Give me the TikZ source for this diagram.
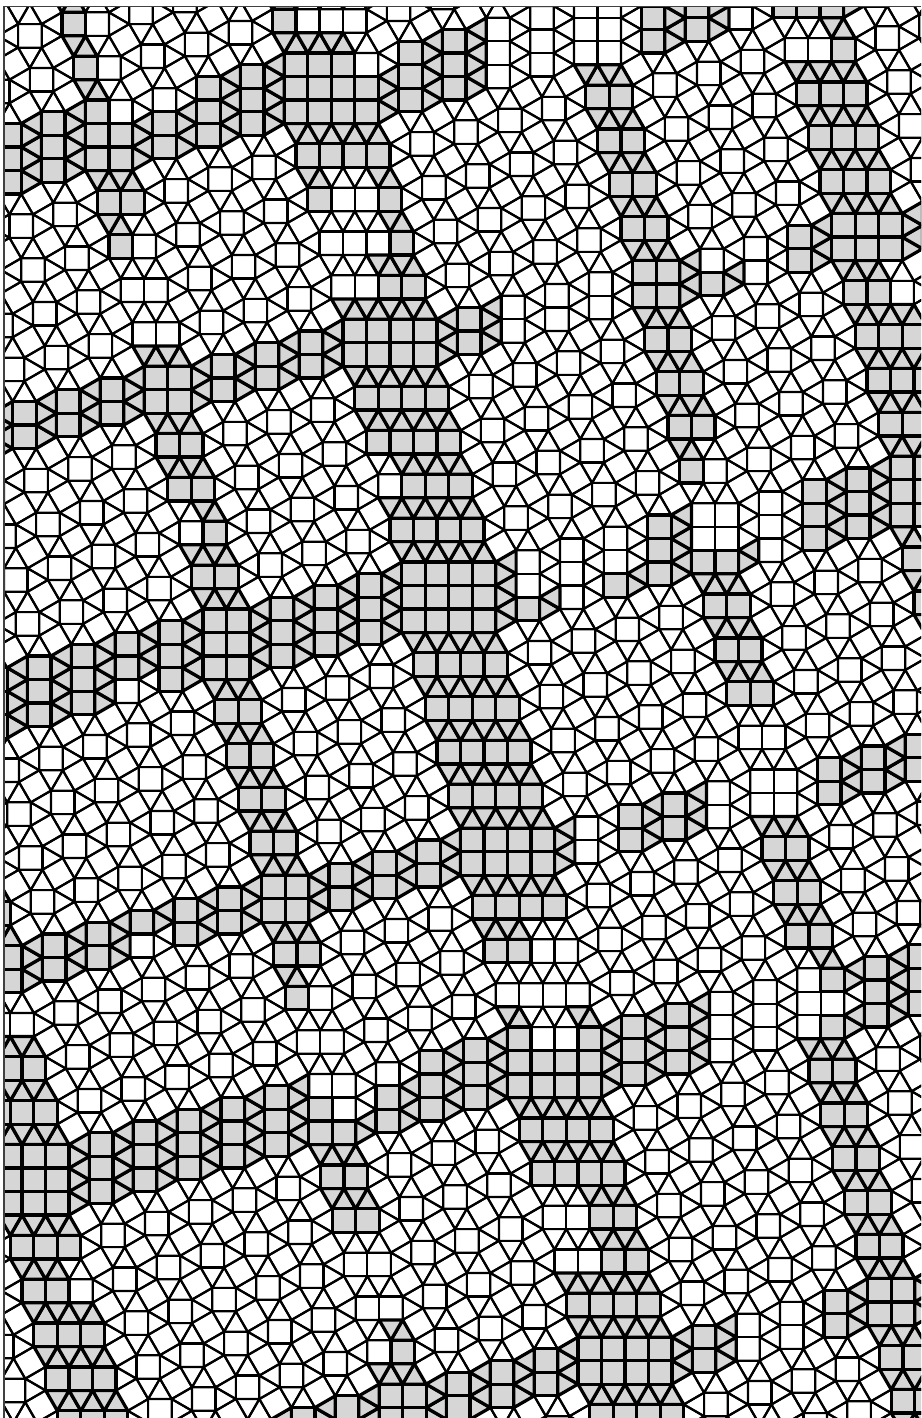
\documentclass[tikz,border=0pt]{standalone}
\newdimen\bxd
\newdimen\byd
\tikzset{
  wt/.style={draw=black,line width=2.6pt,line join=round},
  gt/.style={draw=black,fill=black!16,line width=3.9pt,line join=round},
  framel/.style={draw=black!75,line width=1.4pt}
}
\newcommand\Xlist{S,S,S,E,S,S,S,S,S,E,E,S,S,S,S,S,S,E,S,S,S,S,E,E,E,S,S,S,S,S,E,S,S,S,S,E,E,S,S,S,S,S,E,S,S,S}
\newcommand\Ylist{S,S,E,S,S,S,S,S,E,E,S,S,S,S,E,S,S,S,S,S,S,E,E,S,S,S,S,E,S,S,S,S,S,E,E,S,S,S,S,S,E,S,S,S,S,S,E,E,S,S,S,S,E,S,S,S,S,S,E,E,S,S}
\def\ox{-6.988}
\def\oy{-30.585}
\newcommand\celldraw{%
  \edef\Xt{\csname ct\c\endcsname}%
  \edef\Xp{\csname ct\number\numexpr\c-1\relax\endcsname}%
  \edef\Yt{\csname rt\j\endcsname}%
  \edef\Yp{\csname rt\number\numexpr\j-1\relax\endcsname}%
  \def\hE{0}\if E\Xt\def\hE{1}\fi\if E\Xp\def\hE{1}\fi
  \def\vE{0}\if E\Yt\def\vE{1}\fi\if E\Yp\def\vE{1}\fi
  \def\sh{0}%
  \ifnum\numexpr\hE+\vE\relax>0
    \pgfmathsetmacro\bxu{\bxd}\pgfmathsetmacro\byu{\byd}%
    \pgfmathsetmacro\fb{sin(41*\bxu+17)+sin(34*\byu+63)+0.8*sin(23*\bxu-29*\byu)}%
    \ifdim\fb pt>-0.9pt \def\sh{1}\fi
  \fi
  \def\bst{wt}\ifnum\sh=1 \def\bst{gt}\fi
  \def\ust{wt}\ifnum\vE=1 \ifnum\sh=1 \def\ust{gt}\fi\fi
  \def\vst{wt}\ifnum\hE=1 \ifnum\sh=1 \def\vst{gt}\fi\fi
  \begin{scope}[shift={(\Cx,\Cy)},shift={(\Rx,\Ry)}]
    \if S\Xt
      \path[\ust] (0.5,0.5) -- (0.5,-0.5) -- (1.3660254,0) -- cycle;
      \path[\ust] (0.5,0.5) -- (1.3660254,0) -- (1.3660254,1) -- cycle;
    \fi
    \if S\Yt
      \path[\vst] (-0.5,0.5) -- (0.5,0.5) -- (0,1.3660254) -- cycle;
      \path[\vst] (-0.5,0.5) -- (0,1.3660254) -- (-1,1.3660254) -- cycle;
    \fi
    \if S\Xt\if S\Yt
      \path[wt] (0.5,0.5) -- (1.3660254,1) -- (0.8660254,1.8660254) -- (0,1.3660254) -- cycle;
    \fi\fi
    \path[\bst] (-0.5,-0.5) rectangle (0.5,0.5);
  \end{scope}}
\begin{document}
\begin{tikzpicture}[x=1cm,y=1cm]
\useasboundingbox (0,0) rectangle (39.2,60.35);
% cumulative column offsets
\gdef\accx{0}\gdef\accy{0}
\foreach \t [count=\i from 0] in \Xlist {%
  \expandafter\xdef\csname cx\i\endcsname{\accx}%
  \expandafter\xdef\csname cy\i\endcsname{\accy}%
  \expandafter\xdef\csname ct\i\endcsname{\t}%
  \if S\t
    \pgfmathsetmacro\nx{\accx+1.8660254}\pgfmathsetmacro\ny{\accy+0.5}%
  \else
    \pgfmathsetmacro\nx{\accx+1}\pgfmathsetmacro\ny{\accy}%
  \fi
  \xdef\accx{\nx}\xdef\accy{\ny}%
}
% cumulative row offsets
\gdef\accx{0}\gdef\accy{0}
\foreach \t [count=\i from 0] in \Ylist {%
  \expandafter\xdef\csname rx\i\endcsname{\accx}%
  \expandafter\xdef\csname ry\i\endcsname{\accy}%
  \expandafter\xdef\csname rt\i\endcsname{\t}%
  \if S\t
    \pgfmathsetmacro\nx{\accx-0.5}\pgfmathsetmacro\ny{\accy+1.8660254}%
  \else
    \pgfmathsetmacro\nx{\accx}\pgfmathsetmacro\ny{\accy+1}%
  \fi
  \xdef\accx{\nx}\xdef\accy{\ny}%
}
\expandafter\gdef\csname ct-1\endcsname{S}
\expandafter\gdef\csname rt-1\endcsname{S}
\begin{scope}
\clip (0.17,0) rectangle (39.2,60.09);
\begin{scope}[shift={(\ox,\oy)}]
\foreach \c in {0,...,45}{%
  \foreach \j in {0,...,61}{%
    \edef\Cx{\csname cx\c\endcsname}\edef\Cy{\csname cy\c\endcsname}%
    \edef\Rx{\csname rx\j\endcsname}\edef\Ry{\csname ry\j\endcsname}%
    \bxd=\dimexpr\Cx pt+\Rx pt+\ox pt\relax
    \byd=\dimexpr\Cy pt+\Ry pt+\oy pt\relax
    \ifdim\bxd>-2.5pt \ifdim\bxd<41.7pt \ifdim\byd>-2.5pt \ifdim\byd<62.9pt
      \celldraw
    \fi\fi\fi\fi
  }%
}
\end{scope}
\end{scope}
\path[framel] (0.17,0) -- (0.17,60.09) -- (39.2,60.09);
\end{tikzpicture}
\end{document}
